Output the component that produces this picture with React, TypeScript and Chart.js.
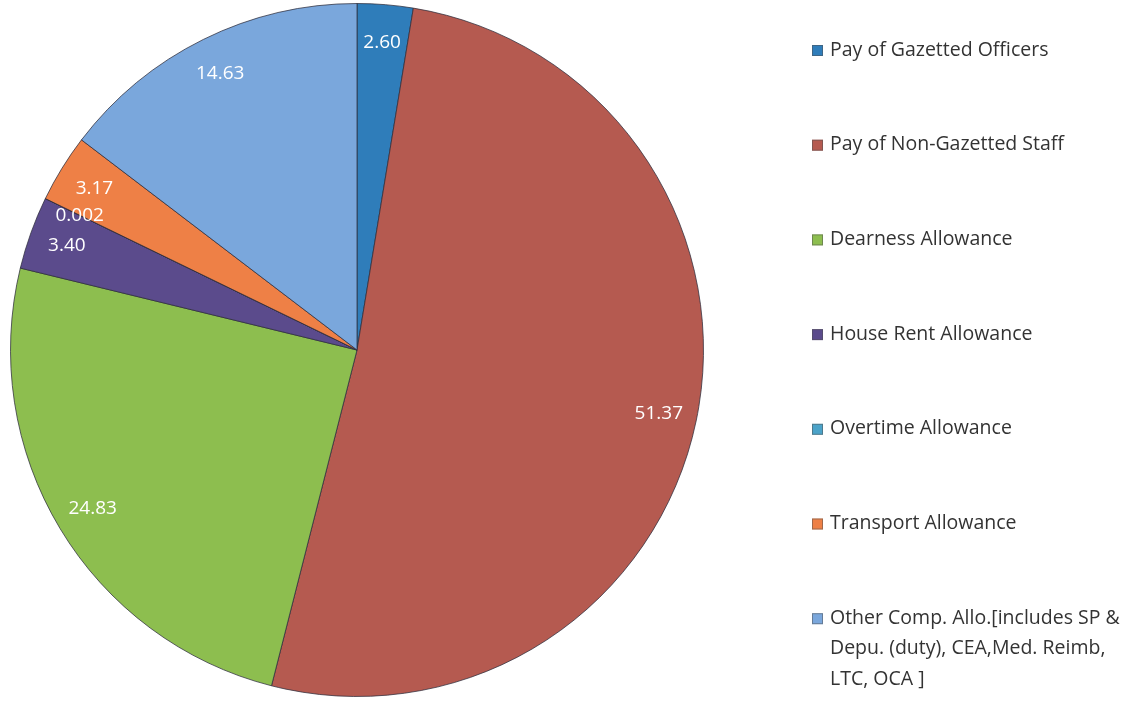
import React, { useEffect, useRef } from "react";
import { Chart, registerables } from "chart.js";

Chart.register(...registerables);

const categories: (string | string[])[] = [
  "Pay of Gazetted Officers",
  "Pay of Non-Gazetted Staff",
  "Dearness Allowance",
  "House Rent Allowance",
  "Overtime Allowance",
  "Transport Allowance",
  ["Other Comp. Allo.[includes SP &", "Depu. (duty), CEA,Med. Reimb,", "LTC, OCA ]"],
];
const values = [2.6, 51.37, 24.83, 3.4, 0.002, 3.17, 14.63];
const valueLabels = ["2.60", "51.37", "24.83", "3.40", "0.002", "3.17", "14.63"];
const colors = ["#2F7DBA", "#B55A50", "#8DBE4F", "#5B4B8C", "#4BA3C9", "#EE8046", "#7AA7DC"];

const FONT = "'Open Sans', sans-serif";

const sliceLabels = {
  id: "sliceLabels",
  afterDatasetsDraw(chart: any) {
    const ctx = chart.ctx;
    const meta = chart.getDatasetMeta(0);
    ctx.save();
    ctx.font = `19px ${FONT}`;
    ctx.fillStyle = "#ffffff";
    ctx.textAlign = "center";
    ctx.textBaseline = "middle";
    meta.data.forEach((arc: any, i: number) => {
      const p = arc.getProps(["x", "y", "startAngle", "endAngle", "outerRadius"], true);
      const mid = (p.startAngle + p.endAngle) / 2;
      const r = p.outerRadius * 0.89;
      ctx.fillText(valueLabels[i], p.x + Math.cos(mid) * r, p.y + Math.sin(mid) * r);
    });
    ctx.restore();
  },
};

const sideLegend = {
  id: "sideLegend",
  afterDraw(chart: any) {
    const ctx = chart.ctx;
    const labels = chart.data.labels as (string | string[])[];
    const bg = chart.data.datasets[0].backgroundColor as string[];
    const boxX = 812;
    const textX = 830;
    const firstY = 50;
    const step = 94.7;
    const lineH = 30.5;
    ctx.save();
    ctx.font = `19.5px ${FONT}`;
    ctx.textAlign = "left";
    ctx.textBaseline = "middle";
    labels.forEach((lab, i) => {
      const y = firstY + i * step;
      ctx.fillStyle = bg[i];
      ctx.fillRect(boxX, y - 5, 11, 11);
      ctx.strokeStyle = "rgba(80,80,80,0.5)";
      ctx.lineWidth = 1;
      ctx.strokeRect(boxX + 0.5, y - 4.5, 10, 10);
      ctx.fillStyle = "#333333";
      const lines = Array.isArray(lab) ? lab : [lab];
      lines.forEach((ln, j) => ctx.fillText(ln, textX, y + j * lineH));
    });
    ctx.restore();
  },
};

export default function App() {
  const ref = useRef<HTMLCanvasElement>(null);
  useEffect(() => {
    if (!ref.current) return;
    const chart = new Chart(ref.current, {
      type: "pie",
      data: {
        labels: categories as any,
        datasets: [
          {
            data: values,
            backgroundColor: colors,
            borderColor: "rgba(45,45,60,0.75)",
            borderWidth: 1,
          },
        ],
      },
      options: {
        animation: false,
        responsive: true,
        maintainAspectRatio: false,
        layout: { padding: { left: 10, top: 3, right: 426, bottom: 8 } },
        plugins: {
          legend: { display: false },
          tooltip: { enabled: false },
        },
      },
      plugins: [sliceLabels, sideLegend],
    });
    return () => chart.destroy();
  }, []);
  return (
    <div style={{ position: "absolute", left: 0, top: 0, width: 1130, height: 705, background: "#fff" }}>
      <canvas ref={ref} />
    </div>
  );
}
